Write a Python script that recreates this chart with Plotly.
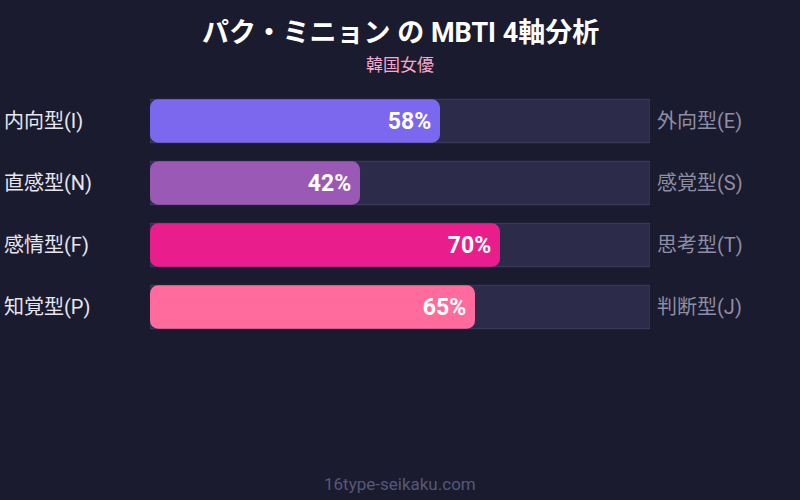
import plotly.graph_objects as go

# data
left_labels = ["内向型(I)", "直感型(N)", "感情型(F)", "知覚型(P)"]
right_labels = ["外向型(E)", "感覚型(S)", "思考型(T)", "判断型(J)"]
values = [58, 42, 70, 65]
bar_colors = ["#7b68ee", "#9b59b6", "#e91e8c", "#ff6b9d"]
rows = ["I", "N", "F", "P"]

BG = "#1a1b2e"
FONT = "Roboto, Noto Sans CJK JP"

fig = go.Figure()

# background track
fig.add_trace(go.Bar(
    y=rows, x=[100] * len(rows), orientation="h",
    marker=dict(color="#2d2b4a", line=dict(color="#3f3d62", width=1)),
    width=0.7, offset=-0.35, hoverinfo="skip", showlegend=False,
))

# value bars (explicit base so both ends get rounded)
fig.add_trace(go.Bar(
    y=rows, x=values, base=[0] * len(rows), orientation="h",
    marker=dict(color=bar_colors, cornerradius=8, line=dict(width=0)),
    width=0.7, offset=-0.35,
    text=[f"<b>{v}%</b>\u00a0" for v in values], textposition="inside",
    insidetextanchor="end", textangle=0,
    textfont=dict(family=FONT, size=23, color="white"),
    hovertemplate="%{x}%<extra></extra>", showlegend=False,
))

for row, lab in zip(rows, left_labels):
    fig.add_annotation(x=-0.296, xref="paper", y=row, yref="y", text=lab,
                       xanchor="left", showarrow=False,
                       font=dict(family=FONT, size=20, color="#e6e6ee"))
for row, lab in zip(rows, right_labels):
    fig.add_annotation(x=1.01, xref="paper", y=row, yref="y", text=lab,
                       xanchor="left", showarrow=False,
                       font=dict(family=FONT, size=20, color="#8e8ea4"))


def py(px):
    # pixel row -> paper y (plot area spans 90..338)
    return (338 - px) / 248


fig.add_annotation(x=0.5, xref="paper", y=py(33), yref="paper",
                   yanchor="middle", text="<b>パク・ミニョン の MBTI 4軸分析</b>",
                   showarrow=False, font=dict(family=FONT, size=27, color="white"))
fig.add_annotation(x=0.5, xref="paper", y=py(65), yref="paper",
                   yanchor="middle", text="韓国女優", showarrow=False,
                   font=dict(family=FONT, size=17, color="#f7a8cc"))
fig.add_annotation(x=0.5, xref="paper", y=py(484), yref="paper",
                   yanchor="middle", text="16type-seikaku.com", showarrow=False,
                   font=dict(family=FONT, size=17, color="#57577a"))

fig.update_layout(
    barmode="group",
    width=800, height=500,
    paper_bgcolor=BG, plot_bgcolor=BG,
    margin=dict(l=150, r=150, t=90, b=162),
    xaxis=dict(range=[0, 100], visible=False, fixedrange=True),
    yaxis=dict(autorange="reversed", visible=False, fixedrange=True),
)

fig.write_html("out.html", config={"displayModeBar": False},
               post_script="document.body.style.margin='0';"
                           "document.body.style.background='#1a1b2e';")
